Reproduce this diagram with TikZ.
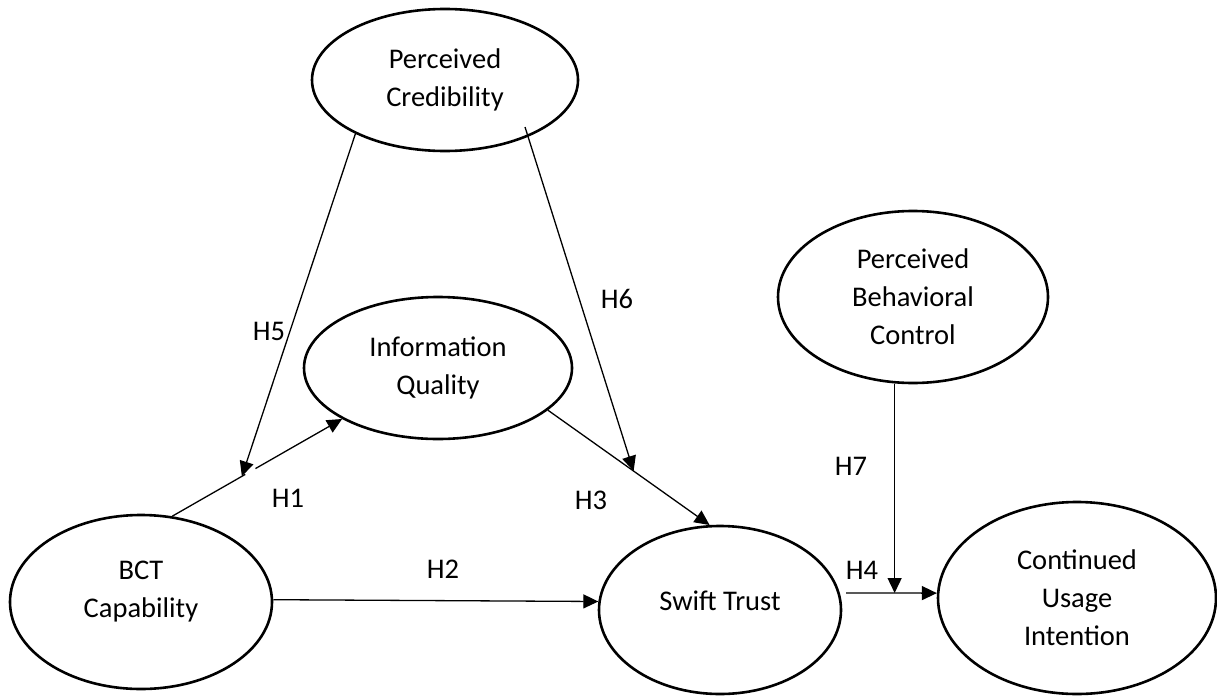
\documentclass[tikz,border=0pt]{standalone}
\usepackage{fontspec}
\setmainfont{Carlito}
\usetikzlibrary{shapes.geometric,arrows.meta,calc}
\begin{document}
\begin{tikzpicture}[x=1pt,y=-1pt,
  construct/.style={draw, ellipse, line width=2.6pt, inner sep=0pt, align=center,
    font=\fontsize{28.5}{38}\selectfont},
  path/.style={line width=1.3pt, -{Triangle[length=15pt,width=14pt]}},
  plain/.style={line width=1.3pt},
  hyp/.style={font=\fontsize{28.5}{34}\selectfont, inner sep=0pt}]
\fill[white] (0,0) rectangle (1217,696);
\useasboundingbox (0,0) rectangle (1217,696);

% constructs
\node[construct, minimum width=266pt, minimum height=142pt] (PC)  at (445,80)   {Perceived\\Credibility};
\node[construct, minimum width=268pt, minimum height=142pt] (IQ)  at (438,368)  {Information\\Quality};
\node[construct, minimum width=270pt, minimum height=172pt] (PBC) at (913,297)  {Perceived\\Behavioral\\Control};
\node[construct, minimum width=262pt, minimum height=174pt, text depth=25pt] (BCT) at (141,602) {BCT\\Capability};
\node[construct, minimum width=242pt, minimum height=168pt, text depth=18pt] (ST)  at (720,610)  {Swift Trust};
\node[construct, minimum width=278pt, minimum height=192pt] (CUI) at (1077,598) {Continued\\Usage\\Intention};

% H1 with H5 moderating it
\coordinate (h1s) at (BCT.70);
\coordinate (h1e) at (IQ.208);
\coordinate (h5t) at ($(h1s)!0.41!(h1e)$);
\coordinate (g1)  at ($(h1s)!0.43!(h1e)$);
\coordinate (g2)  at ($(h1s)!0.49!(h1e)$);
\draw[plain] (h1s) -- (g1);
\draw[path] (g2) -- (h1e);
\draw[path] (PC.211) -- (h5t);

% H3 with H6 moderating it
\coordinate (h3s) at (IQ.-21);
\coordinate (h3e) at (ST.97);
\coordinate (h6s) at ([shift={(80,47)}]PC.center);
\coordinate (h6t) at ($(h3s)!0.53!(h3e)$);
\draw[path] (h3s) -- (h3e);
\draw[path] (h6s) -- (h6t);

% H2
\draw[path] (BCT.1) -- (ST.176);

% H4 with H7 moderating it
\coordinate (h4s) at ([shift={(126,-17)}]ST.center);
\draw[path] (h4s) -- (CUI.178);
\draw[path] (PBC.258) -- (PBC.258 |- h4s);

% hypothesis labels
\node[hyp] (lH1) at (288,498) {H1};
\node[hyp] (lH2) at (443,569) {H2};
\node[hyp] (lH3) at (591,500) {H3};
\node[hyp] (lH4) at (862,570) {H4};
\node[hyp] (lH5) at (269,331) {H5};
\node[hyp] (lH6) at (617,299) {H6};
\node[hyp] (lH7) at (851,466) {H7};
\end{tikzpicture}
\end{document}
